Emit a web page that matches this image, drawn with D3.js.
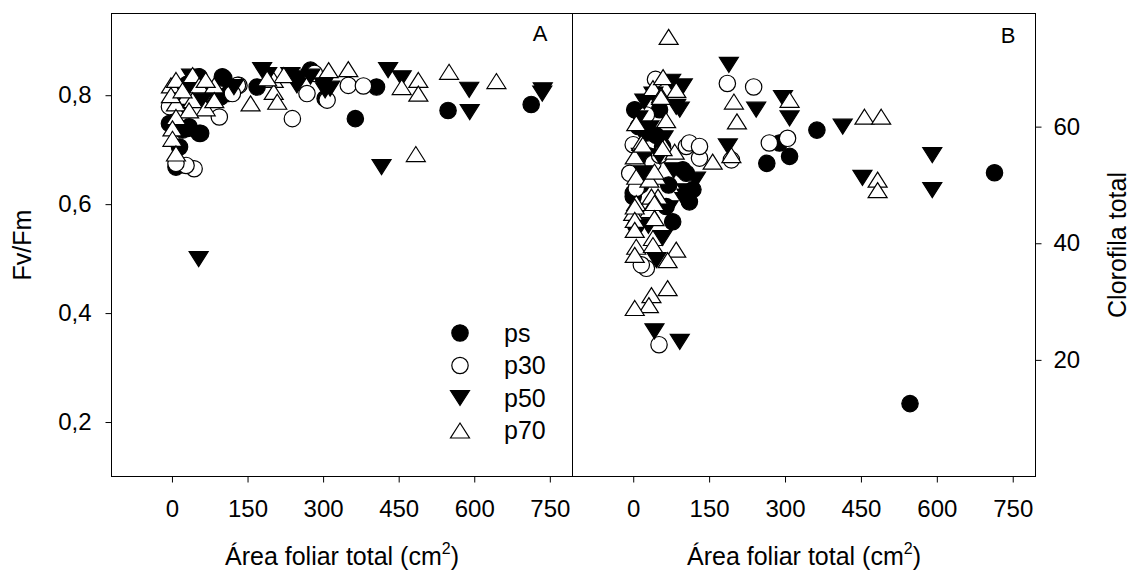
<!DOCTYPE html>
<html>
<head>
<meta charset="utf-8">
<script src="https://cdn.jsdelivr.net/npm/d3@7"></script>
<style>
	body { margin: 0; background: #fff; }
	text { font-family: "Liberation Sans", Arial, sans-serif; fill: #000; }
</style>
</head>
<body>
<script>
(function(){

//panel A: Fv/Fm against total leaf area, [area, value]
var aPs = [[406,0.815],[364,0.757],[548,0.772],[713,0.783],[275,0.846],[304,0.794],[169,0.815],[8,0.668],[57,0.730],[100,0.834],[113,0.803],[34,0.742],[21,0.736],[-5,0.748],[54,0.834],[54,0.730],[31,0.739],[5,0.745],[15,0.705],[103,0.831],[97,0.797],[10,0.79],[30,0.82],[70,0.80]];
var aP30 = [[239,0.757],[350,0.818],[380,0.817],[268,0.803],[308,0.791],[133,0.818],[44,0.665],[28,0.671],[130,0.818],[120,0.803],[-5,0.779],[8,0.675],[94,0.76],[15,0.79],[60,0.80],[283,0.84]];
var aP50 = [[429,0.846],[456,0.831],[590,0.810],[591,0.769],[735,0.803],[736,0.809],[416,0.668],[189,0.837],[235,0.837],[248,0.818],[275,0.834],[301,0.818],[314,0.812],[123,0.815],[53,0.499],[38,0.834],[28,0.772],[20,0.80],[60,0.79],[179,0.846],[252,0.831],[304,0.809]];
var aP70 = [[311,0.846],[350,0.848],[550,0.843],[644,0.826],[489,0.828],[489,0.803],[456,0.815],[156,0.785],[202,0.828],[202,0.806],[209,0.788],[222,0.837],[484,0.692],[-2,0.818],[8,0.828],[41,0.837],[54,0.818],[84,0.818],[67,0.828],[28,0.797],[8,0.785],[41,0.791],[67,0.776],[84,0.791],[34,0.772],[8,0.760],[1,0.739],[1,0.720],[8,0.693],[-2,0.800],[21,0.809],[189,0.831]];

//panel B: total chlorophyll against total leaf area, [area, value]
var bPs = [[363,59.4],[264,53.7],[309,54.9],[289,57.2],[714,52.1],[3,62.9],[52,62.9],[26,58.9],[98,52.6],[0,48.6],[547,12.5],[105,52],[118,49.2],[0,48],[111,47.1],[78,43.7],[65,46.3],[58,56.6],[5,43],[10,60],[30,55],[15,50],[45,58.5],[70,50]];
var bP30 = [[186,67.4],[238,66.8],[269,57.2],[305,58],[131,54.6],[105,56.6],[194,54.3],[44,68.1],[0,56.9],[26,62],[111,57.2],[131,56.6],[39,53.7],[-7,52],[52,55.1],[26,35.7],[16,36.3],[51,22.6],[6,49.4]];
var bP50 = [[189,70.6],[243,62.9],[296,64.9],[309,61.4],[414,60],[591,55.1],[591,49.1],[453,51.2],[187,56.6],[75,67.7],[98,66.9],[85,63.4],[22,64.3],[32,59.7],[124,50.9],[105,48.9],[42,24.9],[92,23.1],[92,62.9],[105,48],[52,54.9],[58,40.9],[101,47.4],[46,37.1],[10,61.4],[40,65.5],[60,58],[20,52],[70,46],[30,43],[15,55],[80,52.5]];
var bP70 = [[70,75.4],[309,64.6],[199,64.3],[205,60.9],[457,61.7],[490,61.7],[483,50.9],[483,49.1],[194,55.1],[157,54],[39,66.6],[55,65.4],[85,66.3],[6,60.6],[65,61.1],[16,57.2],[62,56.6],[82,55.7],[3,54.9],[46,51.4],[6,51.4],[32,50.9],[55,65.1],[19,56.9],[58,56.3],[42,52.3],[49,48],[6,46.9],[36,48],[32,45.7],[0,45.2],[3,46.3],[42,46.9],[3,44],[42,44.3],[3,42.3],[6,39.4],[39,40.9],[39,39.7],[3,38],[85,38.9],[68,37.1],[68,32.3],[36,31.1],[31,29.4],[3,28.9],[59,68.5]];

//ticks and labels
var xTicks = [0, 150, 300, 450, 600, 750];
var aTicks = [0.2, 0.4, 0.6, 0.8];
var bTicks = [20, 40, 60];
var seriesNames = ["ps", "p30", "p50", "p70"];

var width = 1130,
	height = 576,
	top = 13.5,
	bottom = 476.5,
	aLeft = 111.5,
	mid = 572.5,
	bRight = 1035.5;

var svg = d3.select("body")
	.append("svg")
	.attr("width", width)
	.attr("height", height);

//scales, both panels share the area range
var xA = d3.scaleLinear().domain([-120, 795]).range([aLeft, mid]);
var xB = d3.scaleLinear().domain([-120, 795]).range([mid, bRight]);
var yA = d3.scaleLinear().domain([0.1, 0.95]).range([bottom, top]);
var yB = d3.scaleLinear().domain([0, 79.4]).range([bottom, top]);

//marker shapes: filled circle, open circle, filled down triangle, open up triangle
var shapes = [
	{type: "circle", fill: "#000"},
	{type: "circle", fill: "#fff"},
	{type: "down", fill: "#000"},
	{type: "up", fill: "#fff"}
];

function markerPath(type){
	if (type == "up") return "M0,-7.5L9.5,7.5L-9.5,7.5Z";
	return "M-9.5,-7.5L9.5,-7.5L0,7.5Z";
};

function drawMarker(g, type, fill){
	if (type == "circle"){
		g.append("circle")
			.attr("r", 8.2)
			.attr("fill", fill)
			.attr("stroke", "#000")
			.attr("stroke-width", 1.2);
	} else {
		g.append("path")
			.attr("d", markerPath(type))
			.attr("fill", fill)
			.attr("stroke", "#000")
			.attr("stroke-width", 1.2);
	};
};

function drawSeries(data, shape, xs, ys){
	var pts = svg.append("g").selectAll("g")
		.data(data)
		.enter()
		.append("g")
		.attr("transform", function(d){
			return "translate(" + xs(d[0]) + "," + ys(d[1]) + ")";
		});
	pts.each(function(){
		drawMarker(d3.select(this), shape.type, shape.fill);
	});
};

//points, p70 drawn last so it sits on top
[aPs, aP30, aP50, aP70].forEach(function(s, i){
	drawSeries(s, shapes[i], xA, yA);
});
[bPs, bP30, bP50, bP70].forEach(function(s, i){
	drawSeries(s, shapes[i], xB, yB);
});

//frame round both panels plus the divider
svg.append("rect")
	.attr("x", aLeft)
	.attr("y", top)
	.attr("width", bRight - aLeft)
	.attr("height", bottom - top)
	.attr("fill", "none")
	.attr("stroke", "#000")
	.attr("stroke-width", 1);

svg.append("line")
	.attr("x1", mid).attr("x2", mid)
	.attr("y1", top).attr("y2", bottom)
	.attr("stroke", "#000");

//axes
function styleAxis(g){
	g.select(".domain").remove();
	g.selectAll(".tick line").attr("stroke", "#000");
	g.selectAll(".tick text")
		.style("font-family", "'Liberation Sans', Arial, sans-serif")
		.style("font-size", "24px")
		.attr("fill", "#000");
};

svg.append("g")
	.attr("transform", "translate(0," + bottom + ")")
	.call(d3.axisBottom(xA).tickValues(xTicks).tickSize(6).tickPadding(17))
	.call(styleAxis);

svg.append("g")
	.attr("transform", "translate(0," + bottom + ")")
	.call(d3.axisBottom(xB).tickValues(xTicks).tickSize(6).tickPadding(17))
	.call(styleAxis);

svg.append("g")
	.attr("transform", "translate(" + aLeft + ",0)")
	.call(d3.axisLeft(yA).tickValues(aTicks).tickSize(6).tickPadding(14)
		.tickFormat(function(d){ return d3.format(".1f")(d).replace(".", ","); }))
	.call(styleAxis);

svg.append("g")
	.attr("transform", "translate(" + bRight + ",0)")
	.call(d3.axisRight(yB).tickValues(bTicks).tickSize(6).tickPadding(12))
	.call(styleAxis);

//axis titles
function areaTitle(cx){
	var t = svg.append("text")
		.attr("x", cx)
		.attr("y", 565)
		.attr("text-anchor", "middle")
		.style("font-size", "25px");
	t.append("tspan").text("Área foliar total (cm");
	t.append("tspan").attr("dy", -11).style("font-size", "16px").text("2");
	t.append("tspan").attr("dy", 11).text(")");
};
areaTitle((aLeft + mid) / 2);
areaTitle((mid + bRight) / 2);

svg.append("text")
	.attr("transform", "translate(31," + (top + bottom) / 2 + ") rotate(-90)")
	.attr("text-anchor", "middle")
	.style("font-size", "25px")
	.text("Fv/Fm");

svg.append("text")
	.attr("transform", "translate(1126," + (top + bottom) / 2 + ") rotate(-90)")
	.attr("text-anchor", "middle")
	.style("font-size", "25px")
	.text("Clorofila total");

//panel letters
svg.append("text").attr("x", 540).attr("y", 41).attr("text-anchor", "middle")
	.style("font-size", "22px").text("A");
svg.append("text").attr("x", 1008).attr("y", 43).attr("text-anchor", "middle")
	.style("font-size", "22px").text("B");

//legend
var legend = svg.append("g").selectAll("g")
	.data(seriesNames)
	.enter()
	.append("g")
	.attr("transform", function(d, i){
		return "translate(460," + (333 + i * 32.5) + ")";
	});

legend.each(function(d, i){
	drawMarker(d3.select(this), shapes[i].type, shapes[i].fill);
});

legend.append("text")
	.attr("x", 44)
	.attr("dy", "0.35em")
	.style("font-size", "25px")
	.text(function(d){ return d; });

})();
</script>
</body>
</html>
